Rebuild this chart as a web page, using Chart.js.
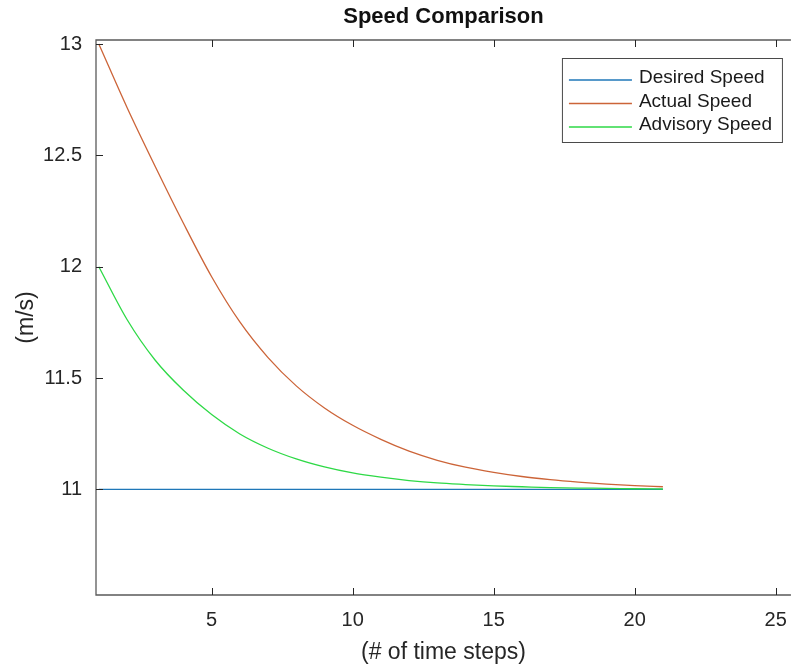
<!DOCTYPE html>
<html>
<head>
<meta charset="utf-8">
<title>Speed Comparison</title>
<script src="https://cdn.jsdelivr.net/npm/chart.js@4.4.0/dist/chart.umd.min.js"></script>
<style>
  html, body { margin: 0; padding: 0; background: #fff; overflow: hidden; }
  #wrap { width: 800px; height: 666px; }
</style>
</head>
<body>
<div id="wrap"><canvas id="myChart"></canvas></div>
<script>
// time steps and the three speed series (m/s)
const steps = [1, 2, 3, 4, 5, 6, 7, 8, 9, 10, 11, 12, 13, 14, 15, 16, 17, 18, 19, 20, 21];
const desiredSpeed = [11, 11, 11, 11, 11, 11, 11, 11, 11, 11, 11, 11, 11, 11, 11, 11, 11, 11, 11, 11, 11];
const actualSpeed = [13.000, 12.715, 12.450, 12.195, 11.955, 11.752, 11.592, 11.465, 11.366, 11.288, 11.225,
                     11.172, 11.131, 11.100, 11.077, 11.058, 11.044, 11.033, 11.024, 11.017, 11.012];
const advisorySpeed = [12.000, 11.763, 11.580, 11.445, 11.336, 11.249, 11.185, 11.137, 11.101, 11.074, 11.055,
                       11.040, 11.029, 11.022, 11.016, 11.012, 11.008, 11.006, 11.005, 11.003, 11.002];

const seriesNames = ['Desired Speed', 'Actual Speed', 'Advisory Speed'];
const xTicks = [5, 10, 15, 20, 25];
const yTicks = [11, 11.5, 12, 12.5, 13];
const yTickLabels = ['11', '11.5', '12', '12.5', '13'];

const font = '"Liberation Sans", Arial, sans-serif';
const textColor = '#262626';

function puntos(valores) {
  return steps.map((s, i) => ({ x: s, y: valores[i] }));
}

// box, inward ticks, title and legend drawn over the chart
const marco = {
  id: 'marco',
  afterDraw(chart) {
    const ctx = chart.ctx;
    const a = chart.chartArea;
    const sx = chart.scales.x;
    const sy = chart.scales.y;
    ctx.save();

    ctx.strokeStyle = '#5a5a5a';
    ctx.lineWidth = 1.3;
    ctx.beginPath();
    ctx.moveTo(a.right, a.top);
    ctx.lineTo(a.left, a.top);
    ctx.lineTo(a.left, a.bottom);
    ctx.lineTo(a.right, a.bottom);
    ctx.stroke();

    ctx.strokeStyle = textColor;
    ctx.lineWidth = 1;
    ctx.beginPath();
    xTicks.forEach(v => {
      const x = Math.round(sx.getPixelForValue(v)) + 0.5;
      ctx.moveTo(x, a.bottom); ctx.lineTo(x, a.bottom - 7);
      ctx.moveTo(x, a.top); ctx.lineTo(x, a.top + 7);
    });
    yTicks.forEach(v => {
      const y = Math.round(sy.getPixelForValue(v)) + 0.5;
      ctx.moveTo(a.left, y); ctx.lineTo(a.left + 7, y);
    });
    ctx.stroke();

    // title
    ctx.fillStyle = '#111';
    ctx.font = 'bold 22px ' + font;
    ctx.textAlign = 'center';
    ctx.textBaseline = 'middle';
    ctx.fillText('Speed Comparison', (a.left + a.right) / 2, 17);

    // legend
    const bx = a.right - 229, by = a.top + 18, bw = 220, bh = 84;
    ctx.fillStyle = '#fff';
    ctx.fillRect(bx, by, bw, bh);
    ctx.strokeStyle = '#4a4a4a';
    ctx.lineWidth = 1;
    ctx.strokeRect(bx + 0.5, by + 0.5, bw, bh);
    ctx.font = '19px ' + font;
    ctx.textAlign = 'left';
    chart.data.datasets.forEach((d, i) => {
      const y = by + 19 + i * 23.5;
      ctx.strokeStyle = d.borderColor;
      ctx.lineWidth = 1.5;
      ctx.beginPath();
      ctx.moveTo(bx + 7, y + 3); ctx.lineTo(bx + 70, y + 3);
      ctx.stroke();
      ctx.fillStyle = '#1a1a1a';
      ctx.fillText(d.label, bx + 77, y + 1);
    });

    ctx.restore();
  }
};

const ctx = document.getElementById('myChart');

const myChart = new Chart(ctx, {
  type: 'line',
  data: {
    datasets: [
      { label: seriesNames[0], data: puntos(desiredSpeed), borderColor: '#1F77B8', order: 3 },
      { label: seriesNames[1], data: puntos(actualSpeed), borderColor: '#CC6438', order: 2 },
      { label: seriesNames[2], data: puntos(advisorySpeed), borderColor: '#2ED946', order: 1 }
    ]
  },
  options: {
    responsive: true,
    maintainAspectRatio: false,
    animation: false,
    devicePixelRatio: 1,
    layout: { padding: { top: 40, right: 8, left: 0, bottom: 0 } },
    elements: {
      line: { borderWidth: 1.3, cubicInterpolationMode: 'monotone', fill: false },
      point: { radius: 0, hoverRadius: 0 }
    },
    plugins: {
      legend: { display: false },
      title: { display: false },
      tooltip: { enabled: false }
    },
    scales: {
      x: {
        type: 'linear',
        min: 0.9,
        max: 25.54,
        grid: { display: false, drawTicks: false },
        border: { display: false },
        afterBuildTicks: s => { s.ticks = xTicks.map(v => ({ value: v })); },
        afterFit: s => { s.height = 71; },
        ticks: {
          color: textColor,
          font: { family: font, size: 20 },
          padding: 13,
          maxRotation: 0,
          autoSkip: false,
          callback: v => String(v)
        },
        title: {
          display: true,
          text: '(# of time steps)',
          color: textColor,
          font: { family: font, size: 23 },
          padding: { top: 2, bottom: 0 }
        }
      },
      y: {
        type: 'linear',
        min: 10.526,
        max: 13.018,
        grid: { display: false, drawTicks: false },
        border: { display: false },
        afterBuildTicks: s => { s.ticks = yTicks.map(v => ({ value: v })); },
        afterFit: s => { s.width = 96; },
        ticks: {
          color: textColor,
          font: { family: font, size: 20 },
          padding: 14,
          autoSkip: false,
          callback: (v, i) => yTickLabels[i]
        },
        title: {
          display: true,
          text: '(m/s)',
          color: textColor,
          font: { family: font, size: 23 },
          padding: { top: 13, bottom: 0 }
        }
      }
    }
  },
  plugins: [marco]
});
</script>
</body>
</html>
